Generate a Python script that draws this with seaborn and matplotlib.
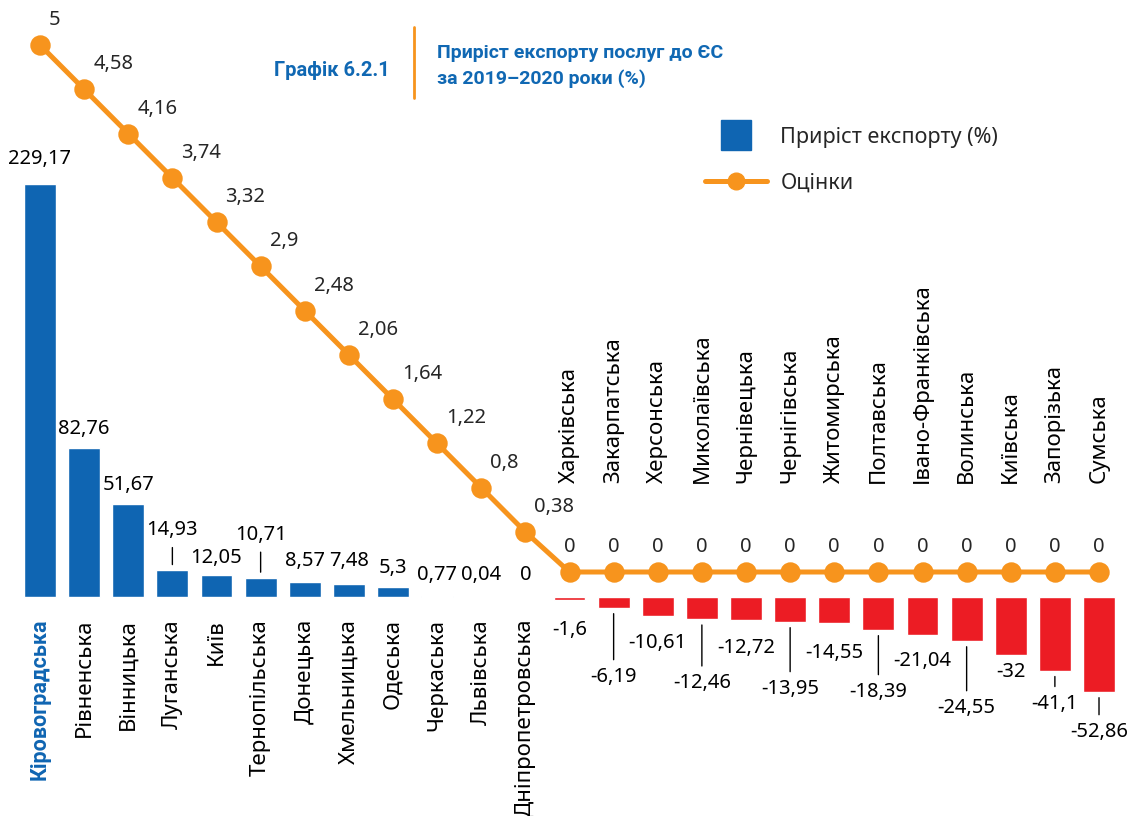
import numpy as np
import pandas as pd
import seaborn as sns
import matplotlib.pyplot as plt
from matplotlib.lines import Line2D

regions = ["Кіровоградська", "Рівненська", "Вінницька", "Луганська", "Київ",
           "Тернопільська", "Донецька", "Хмельницька", "Одеська", "Черкаська",
           "Львівська", "Дніпропетровська", "Харківська", "Закарпатська",
           "Херсонська", "Миколаївська", "Чернівецька", "Чернігівська",
           "Житомирська", "Полтавська", "Івано-Франківська", "Волинська",
           "Київська", "Запорізька", "Сумська"]
growth = [229.17, 82.76, 51.67, 14.93, 12.05, 10.71, 8.57, 7.48, 5.3, 0.77,
          0.04, 0, -1.6, -6.19, -10.61, -12.46, -12.72, -13.95, -14.55,
          -18.39, -21.04, -24.55, -32, -41.1, -52.86]
scores = [5, 4.58, 4.16, 3.74, 3.32, 2.9, 2.48, 2.06, 1.64, 1.22, 0.8, 0.38,
          0, 0, 0, 0, 0, 0, 0, 0, 0, 0, 0, 0, 0]

# label placement (pixels away from bar end) and whether a leader line is drawn
label_gap = [25, 19, 19, 40, 17, 43, 21, 23, 19, 21, 22, 22,
             30, 69, 27, 64, 28, 67, 30, 62, 26, 67, 17, 33, 40]
leader = [False, False, False, True, False, True, False, False, False, False,
          False, False, False, True, False, True, False, True, False, True,
          False, True, False, True, True]

BLUE = "#0f65b2"
RED = "#ec1c24"
ORANGE = "#f7941d"
TITLE_BLUE = "#1068b3"

sns.set_style("white")
plt.rcParams["font.family"] = ["Noto Sans", "DejaVu Sans"]

df = pd.DataFrame({"region": regions, "growth": growth, "score": scores})
df["sign"] = np.where(df["growth"] < 0, "neg", "pos")

fig = plt.figure(figsize=(11.34, 8.16), dpi=100)
ax = fig.add_axes([0, 0, 1, 1])
sns.barplot(data=df, x="region", y="growth", hue="sign",
            palette={"pos": BLUE, "neg": RED}, dodge=False, width=0.72,
            legend=False, saturation=1, ax=ax)

ax2 = ax.twinx()
sns.pointplot(data=df, x="region", y="score", color=ORANGE, markers="o",
              markersize=12, linewidth=3.6, errorbar=None, ax=ax2)

# scales: baseline for bars sits a bit below the zero of the line
ax.set_xlim(-0.9065, 24.793)
ax.set_ylim(-121.67, 331.67)
ax2.set_ylim(-2.315, 5.427)
ax.axis("off")
ax2.axis("off")

fmt = lambda v: f"{v:g}".replace(".", ",")

# bar value labels
for i, (v, gap, ld) in enumerate(zip(growth, label_gap, leader)):
    sgn = -1 if v < 0 else 1
    kw = dict(xy=(i, v), xytext=(0, sgn * gap), textcoords="offset pixels",
              ha="center", va="center", fontsize=14.5, color="black")
    if ld:
        kw["arrowprops"] = dict(arrowstyle="-", color="black", lw=1,
                                shrinkA=3, shrinkB=4)
    ax.annotate(fmt(v), **kw)

# category labels
for i, (name, v) in enumerate(zip(regions, growth)):
    style = dict(rotation=90, ha="center", fontsize=16, color="black")
    if i == 0:
        style.update(color=BLUE, fontweight="bold", fontsize=15.5,
                     family=["Roboto", "DejaVu Sans"])
    if v < 0:
        ax.annotate(name, xy=(i, 0), xytext=(0, 114), textcoords="offset pixels",
                    va="bottom", **style)
    else:
        ax.annotate(name, xy=(i, 0), xytext=(0, -22), textcoords="offset pixels",
                    va="top", **style)

# line value labels
for i, s in enumerate(scores):
    if s > 0:
        ax2.annotate(fmt(s), xy=(i, s), xytext=(9, 25), textcoords="offset pixels",
                     ha="left", va="center", fontsize=14.5)
    else:
        ax2.annotate(fmt(s), xy=(i, s), xytext=(0, 25), textcoords="offset pixels",
                     ha="center", va="center", fontsize=14.5)

# title
fig.text(390 / 1134, 1 - 70 / 816, "Графік 6.2.1", ha="right", va="center",
         fontsize=14.5, fontweight="bold", color=TITLE_BLUE,
         family=["Roboto", "DejaVu Sans"])
fig.text(437 / 1134, 1 - 66 / 816,
         "Приріст експорту послуг до ЄС\nза 2019–2020 роки (%)",
         ha="left", va="center", fontsize=14, fontweight="bold",
         color=TITLE_BLUE, linespacing=1.55, family=["Roboto", "DejaVu Sans"])
fig.add_artist(Line2D([414 / 1134, 414 / 1134], [1 - 27 / 816, 1 - 98 / 816],
                      color=ORANGE, lw=2, transform=fig.transFigure))

# legend
handles = [Line2D([], [], marker="s", markersize=21, color=BLUE, linestyle="none"),
           Line2D([], [], marker="o", markersize=12, color=ORANGE, lw=3.6)]
fig.legend(handles, ["Приріст експорту (%)", "Оцінки"], loc="upper left",
           bbox_to_anchor=(705 / 1134, 1 - 127 / 816), frameon=False,
           fontsize=15.5, handlelength=2.9, handletextpad=0.6,
           labelspacing=1.15, borderpad=0, borderaxespad=0)

fig.savefig("out.png", dpi=100)
